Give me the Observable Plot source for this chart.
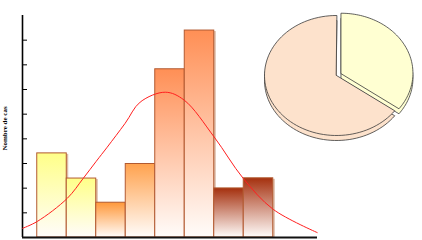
<!DOCTYPE html>
<html>
<head>
<meta charset="utf-8">
<script src="https://cdn.jsdelivr.net/npm/d3@7"></script>
<script src="https://cdn.jsdelivr.net/npm/@observablehq/plot@0.6"></script>
<style>
  html, body { margin: 0; padding: 0; background: #fff; }
  #wrap { position: relative; width: 422px; height: 240px; overflow: hidden; }
  #wrap svg { position: absolute; overflow: visible; }
</style>
</head>
<body>
<div id="wrap"></div>
<script>
// ---- data ----
const bins = [0, 1, 2, 3, 4, 5, 6, 7];
const counts = [3.41, 2.39, 1.41, 2.98, 6.82, 8.39, 1.99, 2.40];
const barTopColors = ["#ffff88", "#ffff88", "#ff983a", "#ffa24e", "#ff8f55", "#ff8f55", "#a5300e", "#a5300e"];
const curveX = [-0.5, 0.0, 1.02, 1.56, 2.0, 2.37, 2.98, 3.49, 4.34, 4.98, 6.0, 6.98, 8.0, 9.49];
const curveY = [0.37, 0.65, 1.59, 2.40, 3.09, 3.66, 4.63, 5.49, 5.89, 5.57, 4.07, 2.40, 1.14, 0.20];
const yTicks = [1, 2, 3, 4, 5, 6, 7, 8];
const yLabel = "Nombre de cas";
const pieNames = ["A", "B"];
const pieValues = [35, 65];
const pieColors = ["#ffffd2", "#fde2cc"];
const pieExplode = [1, 0];

// ---- histogram ----
const bars = bins.map((b, i) => ({x1: b, x2: b + 1, v: counts[i], g: `url(#grad${i})`}));
const curve = curveX.map((x, i) => ({x, y: curveY[i]}));

const main = Plot.plot({
  width: 422, height: 240,
  marginLeft: 22, marginRight: 105, marginTop: 15, marginBottom: 3,
  x: {domain: [-0.5, 9.5], axis: null},
  y: {domain: [0, 9], axis: null},
  color: {type: "identity"},
  marks: [
    Plot.rectY(bars, {x1: "x1", x2: "x2", y: "v", fill: "#dcbba6", dx: 2, dy: 1}),
    Plot.rectY(bars, {x1: "x1", x2: "x2", y: "v", fill: "g", stroke: "#b25a30", strokeWidth: 1}),
    Plot.ruleY(yTicks, {stroke: "#000", strokeWidth: 1, insetRight: 290}),
    Plot.ruleX([-0.5], {y1: 0, y2: 9, stroke: "#000", strokeWidth: 1.6}),
    Plot.ruleY([0], {stroke: "#111", strokeWidth: 2}),
    Plot.line(curve, {x: "x", y: "y", stroke: "#ff1f1f", strokeWidth: 1, curve: "catmull-rom"}),
    Plot.text([yLabel], {frameAnchor: "left", textAnchor: "middle", rotate: -90, dx: -18, dy: 2, fontFamily: "Liberation Serif", fontWeight: "bold", fontSize: 7, fill: "#000"})
  ]
});
main.style.left = "0px"; main.style.top = "0px";
const defs = d3.select(main).insert("defs", ":first-child");
barTopColors.forEach((c, i) => {
  const g = defs.append("linearGradient").attr("id", `grad${i}`)
    .attr("x1", 0).attr("y1", 0).attr("x2", 0).attr("y2", 1);
  g.append("stop").attr("offset", "0%").attr("stop-color", c);
  g.append("stop").attr("offset", "100%").attr("stop-color", "#fffcfa");
});
document.getElementById("wrap").appendChild(main);

// ---- 3D pie ----
const total = d3.sum(pieValues);
const thick = 5 / 60;
const explodeDist = 5;
let acc = 0;
const faces = [], sides = [];
pieValues.forEach((v, k) => {
  const a0 = acc / total * 2 * Math.PI;
  acc += v;
  const a1 = acc / total * 2 * Math.PI;
  const mid = (a0 + a1) / 2;
  const ox = pieExplode[k] * explodeDist * Math.sin(mid) / 72;
  const oy = pieExplode[k] * explodeDist * Math.cos(mid) / 60;
  const pts = [[0, 0]];
  const n = 80;
  for (let j = 0; j <= n; j++) {
    const a = a0 + (a1 - a0) * j / n;
    pts.push([Math.sin(a), Math.cos(a)]);
  }
  pts.forEach(([x, y], j) => {
    sides.push({name: pieNames[k], j, x: x + ox, y: y + oy - thick, c: pieColors[k]});
    faces.push({name: pieNames[k], j, x: x + ox, y: y + oy, c: pieColors[k]});
  });
});

const pie = Plot.plot({
  width: 170, height: 150, margin: 0,
  x: {domain: [-84 / 72, 86 / 72], axis: null},
  y: {domain: [-75 / 60, 75 / 60], axis: null},
  color: {type: "identity"},
  marks: [
    Plot.line(sides, {x: "x", y: "y", z: "name", fill: "c", stroke: "#3a3a3a", strokeWidth: 0.8, curve: "linear-closed"}),
    Plot.line(faces, {x: "x", y: "y", z: "name", fill: "c", stroke: "#3a3a3a", strokeWidth: 0.8, curve: "linear-closed"})
  ]
});
pie.style.left = "252px"; pie.style.top = "0px";
document.getElementById("wrap").appendChild(pie);
</script>
</body>
</html>
